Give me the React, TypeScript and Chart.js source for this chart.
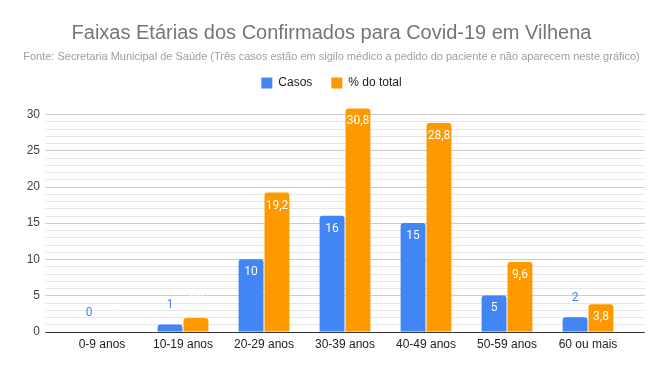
import React, { useEffect, useRef } from "react";
import { Chart, registerables } from "chart.js";

Chart.register(...registerables);

const categories = ["0-9 anos", "10-19 anos", "20-29 anos", "30-39 anos", "40-49 anos", "50-59 anos", "60 ou mais"];
const casos = [0, 1, 10, 16, 15, 5, 2];
const percentual = [0, 1.9, 19.2, 30.8, 28.8, 9.6, 3.8];
const yTickMax = 30;
const yMajorStep = 5;

const TITLE = "Faixas Etárias dos Confirmados para Covid-19 em Vilhena";
const SUBTITLE = "Fonte: Secretaria Municipal de Saúde (Três casos estão em sigilo médico a pedido do paciente e não aparecem neste gráfico)";

const BLUE = "#4285f4";
const ORANGE = "#ff9900";
const ARIAL = "Arial, 'Liberation Sans', sans-serif";
const ROBOTO = "Roboto, Arial, sans-serif";

const fmt = (v: number) => String(v).replace(".", ",");

const gridPlugin = {
  id: "customGrid",
  beforeDatasetsDraw(chart: any) {
    const { ctx, chartArea, scales } = chart;
    const y = scales.y;
    const ext = (chartArea.right - chartArea.left) / categories.length * 0.2;
    ctx.save();
    ctx.lineWidth = 1;
    y.ticks.forEach((t: any) => {
      if (t.value === 0) return;
      const py = Math.round(y.getPixelForValue(t.value)) + 0.5;
      ctx.strokeStyle = t.value % yMajorStep === 0 ? "#cccccc" : "#e6e6e6";
      ctx.beginPath();
      ctx.moveTo(chartArea.left - ext, py);
      ctx.lineTo(chartArea.right + ext, py);
      ctx.stroke();
    });
    ctx.restore();
  },
  afterDatasetsDraw(chart: any) {
    const { ctx, chartArea, scales } = chart;
    const y = scales.y;
    const ext = (chartArea.right - chartArea.left) / categories.length * 0.2;
    ctx.save();
    const py = Math.round(y.getPixelForValue(0)) + 0.5;
    ctx.strokeStyle = "#333333";
    ctx.lineWidth = 1;
    ctx.beginPath();
    ctx.moveTo(chartArea.left - ext, py);
    ctx.lineTo(chartArea.right + ext, py);
    ctx.stroke();

    ctx.font = `12px ${ROBOTO}`;
    ctx.textAlign = "center";
    ctx.textBaseline = "middle";
    const outsideColors = [BLUE, "#ffffff"];
    chart.data.datasets.forEach((ds: any, di: number) => {
      const meta = chart.getDatasetMeta(di);
      meta.data.forEach((el: any, i: number) => {
        const v = ds.data[i];
        const { x, y: top, base } = el.getProps(["x", "y", "base"], true);
        const h = base - top;
        const txt = fmt(v);
        if (h > 20) {
          ctx.fillStyle = "#ffffff";
          ctx.fillText(txt, x, top + 13);
        } else {
          ctx.fillStyle = outsideColors[di];
          ctx.fillText(txt, x, top - 19);
        }
      });
    });
    ctx.restore();
  },
};

export default function App() {
  const ref = useRef<HTMLCanvasElement | null>(null);
  useEffect(() => {
    document.body.style.margin = "0";
    const canvas = ref.current;
    if (!canvas) return;
    const chart = new Chart(canvas, {
      type: "bar",
      data: {
        labels: categories,
        datasets: [
          {
            label: "Casos",
            data: casos,
            backgroundColor: BLUE,
            borderRadius: { topLeft: 3, topRight: 3, bottomLeft: 0, bottomRight: 0 },
            borderSkipped: false,
            barPercentage: 0.96,
            categoryPercentage: 0.64,
          },
          {
            label: "% do total",
            data: percentual,
            backgroundColor: ORANGE,
            borderRadius: { topLeft: 3, topRight: 3, bottomLeft: 0, bottomRight: 0 },
            borderSkipped: false,
            barPercentage: 0.96,
            categoryPercentage: 0.64,
          },
        ],
      },
      options: {
        responsive: false,
        animation: false,
        layout: { padding: 0 },
        plugins: {
          title: {
            display: true,
            text: TITLE,
            color: "#757575",
            font: { family: ARIAL, size: 20, weight: "normal" },
            padding: { top: 21, bottom: 5.4 },
          },
          subtitle: {
            display: true,
            text: SUBTITLE,
            color: "#9e9e9e",
            font: { family: ARIAL, size: 11, weight: "normal" },
            padding: { top: 0, bottom: -5.6 },
          },
          legend: {
            display: true,
            position: "top",
            labels: {
              boxWidth: 11,
              boxHeight: 11,
              padding: 19,
              color: "#222222",
              font: { family: ARIAL, size: 12 },
            },
          },
          tooltip: { enabled: false },
        },
        scales: {
          x: {
            grid: { display: false },
            border: { display: false },
            ticks: {
              color: "#222222",
              font: { family: ARIAL, size: 12 },
              padding: -2,
              maxRotation: 0,
            },
            afterFit(s: any) {
              s.height = 39.3;
            },
          },
          y: {
            min: 0,
            max: 32.1,
            grid: { display: false, drawTicks: false },
            border: { display: false },
            ticks: {
              stepSize: 1,
              maxTicksLimit: 100,
              autoSkip: false,
              color: "#444444",
              font: { family: ARIAL, size: 12 },
              padding: 21.5,
              callback: (v: any) => (Number(v) % yMajorStep === 0 ? String(v) : ""),
            },
            afterBuildTicks(s: any) {
              s.ticks = s.ticks.filter((t: any) => Number.isInteger(t.value) && t.value <= yTickMax);
            },
            afterFit(s: any) {
              s.width = 61.5;
            },
          },
          y2: {
            position: "right",
            display: true,
            grid: { display: false, drawTicks: false },
            border: { display: false },
            ticks: { display: false },
            afterFit(s: any) {
              s.width = 34.5;
            },
          },
        },
      },
      plugins: [gridPlugin],
    } as any);
    return () => chart.destroy();
  }, []);
  return <canvas ref={ref} width={663} height={371} style={{ display: "block" }} />;
}
